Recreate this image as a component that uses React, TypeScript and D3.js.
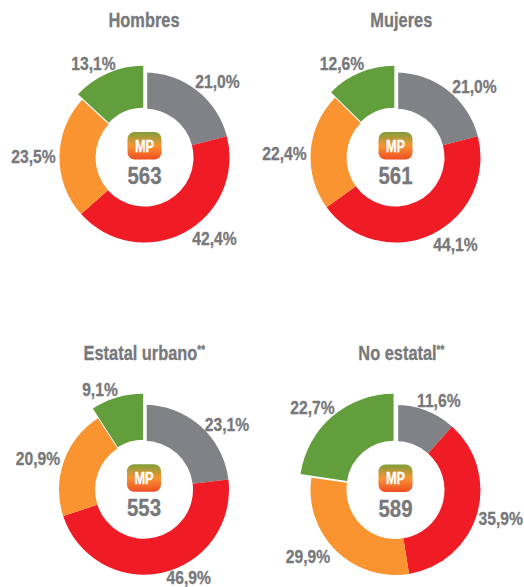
import React from 'react';
import * as d3 from 'd3';

const titles = ['Hombres', 'Mujeres', 'Estatal urbano', 'No estatal'];
const hasNote = [false, false, true, true];
const categories = ['gris', 'rojo', 'naranja', 'verde'];
const hombres = [21.0, 42.4, 23.5, 13.1];
const mujeres = [21.0, 44.1, 22.4, 12.6];
const estatal = [23.1, 46.9, 20.9, 9.1];
const noEstatal = [11.6, 35.9, 29.9, 22.7];
const seriesValues = [hombres, mujeres, estatal, noEstatal];
const centerScores = [563, 561, 553, 589];

const colors = d3.scaleOrdinal<string, string>().domain(categories).range(['#808285', '#ef1c25', '#f99431', '#629e3b']);

const FONT = '"Liberation Sans", Arial, sans-serif';
const TEXT = '#77787b';

const centers = [[144.5, 157.5], [395.5, 157.5], [144, 489.7], [395.5, 490]];
const titleX = [144, 401.3, 144.3, 401.3];
const titleY = [27.3, 27.3, 360, 360];
const greenOuter = [89, 89, 93, 94];
// label centers relative to the donut center, per chart, one per slice
const labelPos = [
  [[73, -76.5], [70, 81], [-111, -1], [-51, -94]],
  [[79, -71], [60, 87], [-111, -4], [-53.5, -94]],
  [[83, -65.7], [44.8, 88], [-106, -31.4], [-44, -100.7]],
  [[43.3, -90], [105.3, 28.3], [-87.5, 66.7], [-83, -82.7]],
];

const pie = d3.pie<number>().sort(null);
const arcGen = d3.arc<d3.PieArcDatum<number>>();

// the reference uses a condensed face, Liberation Sans is squeezed to fit
const Narrow = ({ x, y, sx, size, fill, children }: any) => (
  <text
    transform={`translate(${x},${y}) scale(${sx},1)`}
    textAnchor="middle"
    fontFamily={FONT}
    fontWeight={700}
    fontSize={size}
    fill={fill}
    stroke={fill}
    strokeWidth={0.3}
  >
    {children}
  </text>
);

function Donut({ index }: { index: number }) {
  const [cx, cy] = centers[index];
  const slices = pie(seriesValues[index]);
  return (
    <g transform={`translate(${cx},${cy})`}>
      {slices.map((s, i) => {
        const isGreen = i === 3;
        const mid = (s.startAngle + s.endAngle) / 2;
        const off = isGreen ? 3 : 0;
        const d = arcGen({
          ...s,
          innerRadius: isGreen ? 47 : 49,
          outerRadius: isGreen ? greenOuter[index] : 85,
        } as any)!;
        return (
          <path
            key={i}
            d={d}
            fill={colors(categories[i])}
            transform={`translate(${Math.sin(mid) * off},${-Math.cos(mid) * off})`}
          />
        );
      })}
      <line x1={1} x2={1} y1={-87} y2={-47} stroke="#fff" strokeWidth={3.4} />
      {slices.map((s, i) => (
        <Narrow
          key={i}
          x={labelPos[index][i][0]}
          y={labelPos[index][i][1] + 6.5}
          sx={0.86}
          size={18.2}
          fill={TEXT}
        >
          {s.value.toFixed(1).replace('.', ',')}%
        </Narrow>
      ))}
      <rect x={-17} y={-25.5} width={34} height={27.5} rx={7} fill="url(#mpGrad)" />
      <Narrow x={0} y={-5.8} sx={0.8} size={16} fill="#fff">MP</Narrow>
      <Narrow x={0} y={26.5} sx={0.85} size={24} fill={TEXT}>{centerScores[index]}</Narrow>
    </g>
  );
}

export default function App() {
  return (
    <svg width={524} height={587} style={{ position: 'absolute', left: 0, top: 0 }}>
      <defs>
        <linearGradient id="mpGrad" x1="0" y1="0" x2="0" y2="1">
          <stop offset="0" stopColor="#7f9e3c" />
          <stop offset="0.5" stopColor="#f79433" />
          <stop offset="1" stopColor="#f04e23" />
        </linearGradient>
      </defs>
      {titles.map((t, i) => (
        <Narrow key={t} x={titleX[i]} y={titleY[i]} sx={0.82} size={20} fill={TEXT}>
          {t}
          {hasNote[i] && <tspan dy={-6} fontSize={12}>**</tspan>}
        </Narrow>
      ))}
      {titles.map((t, i) => <Donut key={t} index={i} />)}
    </svg>
  );
}
